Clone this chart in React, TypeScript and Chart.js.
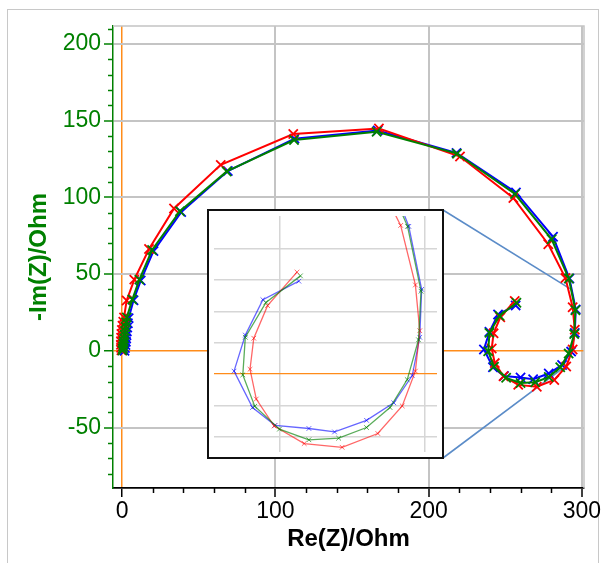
import React, { useEffect, useRef } from 'react';
import { Chart, registerables } from 'chart.js';

Chart.register(...registerables);

const FONT = '"Liberation Sans", Arial, Helvetica, sans-serif';

// ---- data (Re(Z), -Im(Z)) in Ohm ----
const RE_GREEN = [0.3, 0.5, 0.7, 0.9, 1.1, 1.3, 1.6, 1.9, 2.3, 2.7, 3.1, 6.7, 11.3, 19.6, 37.8, 68.3, 112.2, 166.1, 218.5, 256.4, 280.3, 291.5, 295.8, 295.0, 291.4, 285.9, 278.4, 269.5, 260.0, 250.6, 242.7, 238.9, 239.7, 246.3, 257.3];
const IM_GREEN = [0.2, 1.5, 3.0, 4.6, 6.3, 8.2, 10.5, 13.0, 15.7, 18.6, 21.8, 33.4, 46.4, 65.7, 91.0, 116.9, 137.4, 142.8, 128.5, 102.2, 72.7, 47.1, 26.4, 10.9, -1.8, -10.7, -17.1, -20.5, -21.0, -17.6, -10.3, -0.3, 11.7, 22.8, 31.3];

const RE_RED = [-0.4, -0.6, -0.7, -0.7, -0.6, -0.4, -0.1, 0.3, 0.8, 1.3, 3.0, 8.0, 17.6, 33.9, 64.4, 111.7, 167.6, 220.5, 255.3, 278.1, 289.3, 294.0, 295.4, 294.0, 289.8, 282.0, 270.6, 258.5, 248.9, 243.2, 241.2, 242.4, 246.8, 256.2];
const IM_RED = [0.3, 2.0, 4.0, 6.2, 8.5, 11.0, 13.6, 16.3, 19.0, 21.8, 32.8, 46.4, 66.4, 92.8, 121.2, 141.3, 144.9, 126.6, 99.6, 69.5, 47.4, 28.4, 13.8, 0.9, -10.2, -19.0, -23.4, -22.2, -16.6, -8.0, 1.5, 11.4, 21.8, 32.5];

const RE_BLUE = [1.6, 1.9, 2.2, 2.5, 2.7, 2.9, 3.1, 3.4, 3.8, 4.3, 7.5, 12.2, 20.5, 38.6, 69.0, 112.5, 166.8, 218.2, 257.0, 281.2, 291.9, 296.0, 295.4, 293.0, 287.1, 278.4, 268.2, 260.0, 249.2, 242.0, 236.1, 239.7, 245.3, 256.8];
const IM_BLUE = [0.1, 1.8, 3.8, 5.9, 8.0, 10.2, 12.6, 15.2, 18.0, 21.3, 33.0, 45.8, 65.0, 90.4, 117.2, 138.3, 143.6, 129.0, 103.2, 74.3, 47.1, 27.0, 11.7, -0.5, -9.2, -14.8, -18.5, -17.4, -16.4, -10.7, 0.9, 12.4, 23.7, 29.6];

// ---- ticks ----
const X_MAJOR = [0, 100, 200, 300];
const X_MINOR = [20, 40, 60, 80, 120, 140, 160, 180, 220, 240, 260, 280];
const Y_MAJOR = [-50, 0, 50, 100, 150, 200];
const Y_MINOR = [-80, -70, -60, -40, -30, -20, -10, 10, 20, 30, 40, 60, 70, 80, 90, 110, 120, 130, 140, 160, 170, 180, 190, 210];
const X_RANGE = [-5.9, 301.4];
const Y_RANGE = [-89.4, 211.7];

// ---- inset (zoom of the low-frequency spiral) ----
const INSET_X_RANGE = [229.7, 300.9];
const INSET_Y_RANGE = [-24.9, 50.4];
const INSET_X_GRID = [250.7, 297.0];
const INSET_Y_GRID = [-20, -10, 0, 10, 20, 30, 40];
// points of the main plot that the connector lines reach (Re, -Im)
const CONNECTOR_TARGETS = [
  [292.2, 40.5],
  [287.7, -11.3],
];

const C_GREEN = '#008000';
const C_RED = '#ff0000';
const C_BLUE = '#0000ff';
const C_ORANGE = '#ff8c1a';
const C_GRID = '#c4c4c4';
const C_INSET_GRID = '#d6d6d6';
const C_CONNECT = '#5b8cc8';

// layout (px)
const W = 601;
const H = 563;
const INSET_LEFT = 207;
const INSET_TOP = 209;
const INSET_W = 237;
const INSET_H = 250;
const INSET_BORDER = 2;

const pts = (xs: number[], ys: number[]) => xs.map((x, i) => ({ x, y: ys[i] }));

export default function App() {
  const mainRef = useRef<HTMLCanvasElement | null>(null);
  const insetRef = useRef<HTMLCanvasElement | null>(null);

  useEffect(() => {
    Chart.defaults.font.family = FONT;
    const series = [
      { xs: RE_GREEN, ys: IM_GREEN, c: C_GREEN, ci: 'rgba(0,128,0,0.65)' },
      { xs: RE_RED, ys: IM_RED, c: C_RED, ci: 'rgba(255,0,0,0.6)' },
      { xs: RE_BLUE, ys: IM_BLUE, c: C_BLUE, ci: 'rgba(0,0,255,0.6)' },
    ];

    const mainDecor = {
      id: 'mainDecor',
      beforeDatasetsDraw(chart: any) {
        const { ctx, chartArea: a, scales } = chart;
        const x = scales.x;
        const y = scales.y;
        ctx.save();
        ctx.strokeStyle = C_GRID;
        ctx.lineWidth = 1.5;
        ctx.beginPath();
        ctx.moveTo(a.left, a.top);
        ctx.lineTo(a.right, a.top);
        ctx.lineTo(a.right, a.bottom);
        ctx.stroke();
        // connector lines from the inset's right corners
        const cx = INSET_LEFT + INSET_W - 1;
        const starts = [INSET_TOP + 1, INSET_TOP + INSET_H - 1];
        ctx.strokeStyle = C_CONNECT;
        ctx.lineWidth = 1.6;
        CONNECTOR_TARGETS.forEach((t, i) => {
          ctx.beginPath();
          ctx.moveTo(cx, starts[i]);
          ctx.lineTo(x.getPixelForValue(t[0]), y.getPixelForValue(t[1]));
          ctx.stroke();
        });
        ctx.restore();
      },
      afterDraw(chart: any) {
        const { ctx, chartArea: a, scales } = chart;
        ctx.save();
        ctx.lineWidth = 1.5;
        ctx.strokeStyle = '#000';
        X_MINOR.forEach((v) => {
          const px = Math.round(scales.x.getPixelForValue(v)) + 0.5;
          ctx.beginPath();
          ctx.moveTo(px, a.bottom);
          ctx.lineTo(px, a.bottom + 5);
          ctx.stroke();
        });
        ctx.strokeStyle = C_GREEN;
        Y_MINOR.forEach((v) => {
          const py = Math.round(scales.y.getPixelForValue(v)) + 0.5;
          ctx.beginPath();
          ctx.moveTo(a.left - 5, py);
          ctx.lineTo(a.left, py);
          ctx.stroke();
        });
        ctx.restore();
      },
    };

    const main = new Chart(mainRef.current as HTMLCanvasElement, {
      type: 'scatter',
      data: {
        datasets: series.map((s) => ({
          data: pts(s.xs, s.ys),
          showLine: true,
          borderColor: s.c,
          backgroundColor: s.c,
          borderWidth: 2,
          pointStyle: 'crossRot',
          pointRadius: 6.5,
          pointBorderWidth: 1.8,
          pointBorderColor: s.c,
          tension: 0,
        })),
      },
      options: {
        responsive: false,
        animation: false,
        events: [],
        layout: { padding: { top: 26, right: 17, left: 0, bottom: 0 } },
        plugins: { legend: { display: false }, tooltip: { enabled: false } },
        scales: {
          x: {
            type: 'linear',
            min: X_RANGE[0],
            max: X_RANGE[1],
            afterBuildTicks: (s: any) => {
              s.ticks = X_MAJOR.map((v) => ({ value: v }));
            },
            afterFit: (s: any) => {
              s.height = 75;
              s.paddingLeft = 0;
              s.paddingRight = 0;
            },
            ticks: {
              color: '#000',
              font: { family: FONT, size: 23 },
              padding: 1,
              maxRotation: 0,
              autoSkip: false,
              callback: (v: any) => String(v),
            },
            grid: {
              color: (c: any) => (c.tick && c.tick.value === 0 ? C_ORANGE : C_GRID),
              lineWidth: (c: any) => (c.tick && c.tick.value === 0 ? 1.5 : 2),
              tickLength: 9,
              tickColor: '#000',
              tickWidth: 1.5,
            },
            border: { display: true, color: '#000', width: 1.8 },
            title: {
              display: true,
              text: 'Re(Z)/Ohm',
              color: '#000',
              font: { family: FONT, size: 24, weight: 'bold' },
              padding: { top: 0, bottom: 9 },
            },
          },
          y: {
            type: 'linear',
            min: Y_RANGE[0],
            max: Y_RANGE[1],
            afterBuildTicks: (s: any) => {
              s.ticks = Y_MAJOR.map((v) => ({ value: v }));
            },
            afterFit: (s: any) => {
              s.width = 113;
              s.paddingTop = 0;
              s.paddingBottom = 0;
            },
            ticks: {
              color: C_GREEN,
              font: { family: FONT, size: 23 },
              padding: 3,
              autoSkip: false,
              callback: (v: any) => String(v),
            },
            grid: {
              color: (c: any) => (c.tick && c.tick.value === 0 ? C_ORANGE : C_GRID),
              lineWidth: (c: any) => (c.tick && c.tick.value === 0 ? 1.5 : 2),
              tickLength: 9,
              tickColor: C_GREEN,
              tickWidth: 1.5,
            },
            border: { display: true, color: C_GREEN, width: 1.5 },
            title: {
              display: true,
              text: '-Im(Z)/Ohm',
              color: C_GREEN,
              font: { family: FONT, size: 24, weight: 'bold' },
              padding: { top: 25, bottom: 0 },
            },
          },
        },
      } as any,
      plugins: [mainDecor],
    });

    const inset = new Chart(insetRef.current as HTMLCanvasElement, {
      type: 'scatter',
      data: {
        datasets: series.map((s) => ({
          data: pts(s.xs, s.ys),
          showLine: true,
          borderColor: s.ci,
          backgroundColor: s.ci,
          borderWidth: 1.3,
          pointStyle: 'crossRot',
          pointRadius: 3.3,
          pointBorderWidth: 1,
          pointBorderColor: s.ci,
          tension: 0,
        })),
      },
      options: {
        responsive: false,
        animation: false,
        events: [],
        layout: { padding: 0 },
        plugins: { legend: { display: false }, tooltip: { enabled: false } },
        scales: {
          x: {
            type: 'linear',
            min: INSET_X_RANGE[0],
            max: INSET_X_RANGE[1],
            afterBuildTicks: (s: any) => {
              s.ticks = INSET_X_GRID.map((v) => ({ value: v }));
            },
            afterFit: (s: any) => {
              s.height = 0;
              s.paddingLeft = 0;
              s.paddingRight = 0;
            },
            ticks: { display: false },
            grid: { drawTicks: false, color: C_INSET_GRID, lineWidth: 1.5 },
            border: { display: false },
          },
          y: {
            type: 'linear',
            min: INSET_Y_RANGE[0],
            max: INSET_Y_RANGE[1],
            afterBuildTicks: (s: any) => {
              s.ticks = INSET_Y_GRID.map((v) => ({ value: v }));
            },
            afterFit: (s: any) => {
              s.width = 0;
              s.paddingTop = 0;
              s.paddingBottom = 0;
            },
            ticks: { display: false },
            grid: {
              drawTicks: false,
              color: (c: any) => (c.tick && c.tick.value === 0 ? C_ORANGE : C_INSET_GRID),
              lineWidth: (c: any) => (c.tick && c.tick.value === 0 ? 1.2 : 1.5),
            },
            border: { display: false },
          },
        },
      } as any,
    });

    return () => {
      main.destroy();
      inset.destroy();
    };
  }, []);

  return (
    <div
      style={{
        position: 'fixed',
        left: 0,
        top: 0,
        width: W,
        height: H,
        overflow: 'hidden',
        background: '#fff',
      }}
    >
      <div
        style={{
          position: 'absolute',
          left: 7,
          top: 9,
          width: 592,
          height: 620,
          border: '1px solid #c8c8c8',
          boxSizing: 'border-box',
        }}
      />
      <canvas
        ref={mainRef}
        width={W}
        height={H}
        style={{ position: 'absolute', left: 0, top: 0 }}
      />
      <div
        style={{
          position: 'absolute',
          left: INSET_LEFT,
          top: INSET_TOP,
          width: INSET_W,
          height: INSET_H,
          border: `${INSET_BORDER}px solid #111`,
          boxSizing: 'border-box',
          background: '#fff',
        }}
      >
        <canvas
          ref={insetRef}
          width={INSET_W - 2 * INSET_BORDER}
          height={INSET_H - 2 * INSET_BORDER}
          style={{ display: 'block' }}
        />
      </div>
    </div>
  );
}
